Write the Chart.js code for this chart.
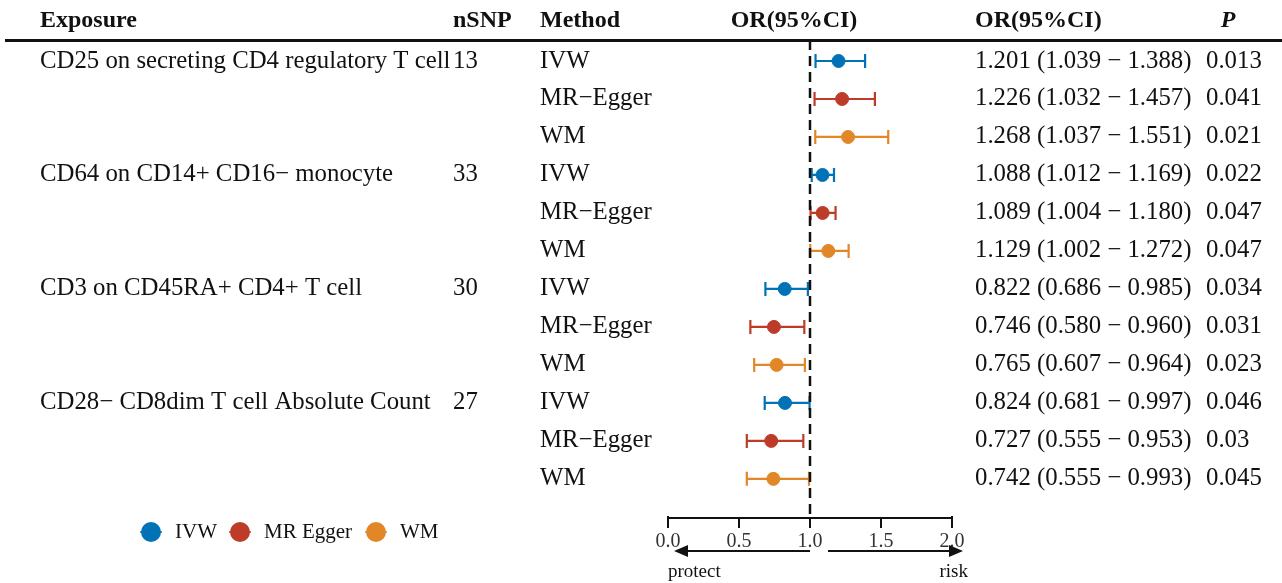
<!DOCTYPE html>
<html>
<head>
<meta charset="utf-8">
<style>
* { margin: 0; padding: 0; }
body { background: #fff; }
</style>
</head>
<body>
<canvas id="myChart" width="1282" height="583"></canvas>
<script src="https://cdn.jsdelivr.net/npm/chart.js"></script>
<script>
// data
const exposures = ['CD25 on secreting CD4 regulatory T cell', 'CD64 on CD14+ CD16\u2212 monocyte', 'CD3 on CD45RA+ CD4+ T cell', 'CD28\u2212 CD8dim T cell Absolute Count'];
const nSNP = ['13', '33', '30', '27'];
const methods = ['IVW', 'MR\u2212Egger', 'WM'];
const legendLabels = ['IVW', 'MR Egger', 'WM'];
const orValues = [1.201, 1.226, 1.268, 1.088, 1.089, 1.129, 0.822, 0.746, 0.765, 0.824, 0.727, 0.742];
const lowerCI = [1.039, 1.032, 1.037, 1.012, 1.004, 1.002, 0.686, 0.580, 0.607, 0.681, 0.555, 0.555];
const upperCI = [1.388, 1.457, 1.551, 1.169, 1.180, 1.272, 0.985, 0.960, 0.964, 0.997, 0.953, 0.993];
const pValues = ['0.013', '0.041', '0.021', '0.022', '0.047', '0.047', '0.034', '0.031', '0.023', '0.046', '0.03', '0.045'];
const xTicks = [0, 0.5, 1, 1.5, 2];
const colors = ['#0072B5', '#BC3C29', '#E18727'];

const serif = '"Liberation Serif", "Times New Roman", serif';
const fs = 24.8;

function rowOf(i) { return i + 1; }

const datasets = methods.map((m, k) => ({
  label: legendLabels[k],
  data: orValues.map((v, i) => ({ x: v, y: rowOf(i), i: i })).filter(d => d.i % 3 === k),
  backgroundColor: colors[k],
  borderColor: colors[k],
  pointRadius: 6.5,
  pointHoverRadius: 6.5,
  showLine: false
}));

// reference line at OR = 1
datasets.push({
  type: 'line',
  label: 'ref',
  data: [{ x: 1, y: 0.45 }, { x: 1, y: 13.03 }],
  borderColor: '#111',
  borderWidth: 2.5,
  borderDash: [10, 6],
  pointRadius: 0,
  order: 10
});

const forestPlugin = {
  id: 'forest',
  beforeDatasetsDraw(chart) {
    const ctx = chart.ctx;
    const xs = chart.scales.x, ys = chart.scales.y;
    ctx.save();
    orValues.forEach((v, i) => {
      const y = ys.getPixelForValue(rowOf(i));
      const x1 = xs.getPixelForValue(lowerCI[i]);
      const x2 = xs.getPixelForValue(upperCI[i]);
      ctx.strokeStyle = colors[i % 3];
      ctx.lineWidth = 2.2;
      ctx.beginPath();
      ctx.moveTo(x1, y); ctx.lineTo(x2, y);
      ctx.moveTo(x1, y - 7); ctx.lineTo(x1, y + 7);
      ctx.moveTo(x2, y - 7); ctx.lineTo(x2, y + 7);
      ctx.stroke();
    });
    ctx.restore();
  },
  afterDraw(chart) {
    const ctx = chart.ctx;
    const xs = chart.scales.x, ys = chart.scales.y;
    ctx.save();
    ctx.fillStyle = '#111';
    ctx.textBaseline = 'middle';

    // header
    ctx.font = 'bold 24px ' + serif;
    ctx.textAlign = 'left';
    ctx.fillText('Exposure', 40, 21);
    ctx.fillText('nSNP', 453, 21);
    ctx.fillText('Method', 540, 21);
    ctx.fillText('OR(95%CI)', 975, 21);
    ctx.textAlign = 'center';
    ctx.fillText('OR(95%CI)', 794, 21);
    ctx.font = 'italic bold 24px ' + serif;
    ctx.fillText('P', 1228, 21);

    ctx.fillRect(5, 39, 1277, 3);

    // rows
    ctx.font = fs + 'px ' + serif;
    ctx.textAlign = 'left';
    orValues.forEach((v, i) => {
      const y = ys.getPixelForValue(rowOf(i));
      if (i % 3 === 0) {
        ctx.fillText(exposures[i / 3], 40, y);
        ctx.fillText(nSNP[i / 3], 453, y);
      }
      ctx.fillText(methods[i % 3], 540, y);
      ctx.fillText(v.toFixed(3) + ' (' + lowerCI[i].toFixed(3) + ' \u2212 ' + upperCI[i].toFixed(3) + ')', 975, y);
      ctx.fillText(pValues[i], 1206, y);
    });

    // direction arrows
    const ay = 551;
    const p1 = xs.getPixelForValue(1);
    const p0 = xs.getPixelForValue(0);
    const p2 = xs.getPixelForValue(2);
    ctx.strokeStyle = '#111';
    ctx.lineWidth = 2;
    ctx.beginPath();
    ctx.moveTo(p1, ay); ctx.lineTo(p0 + 18, ay);
    ctx.moveTo(p1 + 18, ay); ctx.lineTo(p2, ay);
    ctx.stroke();
    ctx.beginPath();
    ctx.moveTo(p0 + 6, ay); ctx.lineTo(p0 + 20, ay - 6); ctx.lineTo(p0 + 20, ay + 6); ctx.closePath();
    ctx.moveTo(p2 + 11, ay); ctx.lineTo(p2 - 3, ay - 6); ctx.lineTo(p2 - 3, ay + 6); ctx.closePath();
    ctx.fill();
    ctx.font = '19px ' + serif;
    ctx.textAlign = 'left';
    ctx.fillText('protect', p0, 572);
    ctx.textAlign = 'right';
    ctx.fillText('risk', p2 + 16, 572);

    // end ticks reach slightly above the axis line
    ctx.fillRect(p0 - 1, 516, 2, 4);
    ctx.fillRect(p2 - 1, 516, 2, 4);

    // legend
    const lx = [151, 240, 376];
    ctx.font = '21px ' + serif;
    ctx.textAlign = 'left';
    legendLabels.forEach((t, k) => {
      ctx.strokeStyle = colors[k];
      ctx.fillStyle = colors[k];
      ctx.lineWidth = 1.5;
      ctx.beginPath();
      ctx.moveTo(lx[k] - 11, 532); ctx.lineTo(lx[k] + 11, 532);
      ctx.stroke();
      ctx.beginPath();
      ctx.arc(lx[k], 532, 10, 0, Math.PI * 2);
      ctx.fill();
      ctx.fillStyle = '#111';
      ctx.fillText(t, lx[k] + 24, 532);
    });
    ctx.restore();
  }
};

const config = {
  type: 'scatter',
  data: { datasets },
  options: {
    responsive: false,
    animation: false,
    layout: { padding: { left: 668, right: 330, top: 42, bottom: 0 } },
    plugins: { legend: { display: false }, tooltip: { enabled: false } },
    scales: {
      x: {
        type: 'linear',
        min: 0,
        max: 2,
        afterBuildTicks: (scale) => { scale.ticks = xTicks.map(v => ({ value: v })); },
        afterFit: (scale) => { scale.height = 65; },
        ticks: {
          callback: (v) => v.toFixed(1),
          color: '#333',
          font: { family: serif, size: 20 },
          padding: 2,
          maxRotation: 0
        },
        grid: { drawOnChartArea: false, drawTicks: true, tickLength: 10, color: '#111', lineWidth: 2 },
        border: { display: true, color: '#111', width: 2 }
      },
      y: {
        type: 'linear',
        display: false,
        reverse: true,
        min: 0.5,
        max: 13.03
      }
    }
  },
  plugins: [forestPlugin]
};

const myChart = new Chart(document.getElementById('myChart'), config);
</script>
</body>
</html>
